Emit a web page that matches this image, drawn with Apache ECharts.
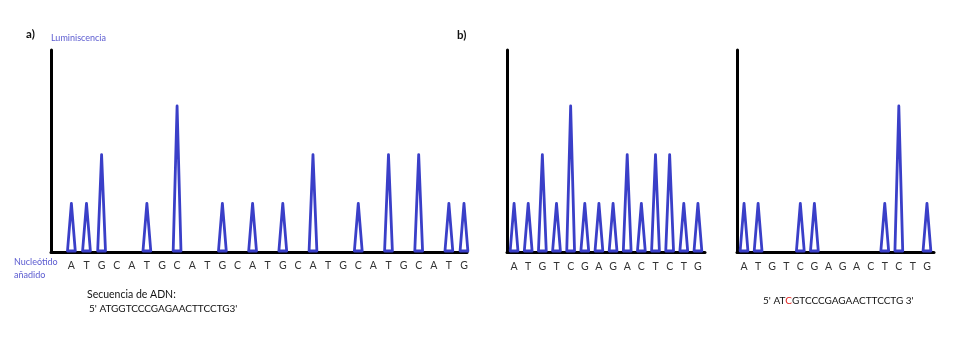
<!DOCTYPE html>
<html>
<head>
<meta charset="utf-8">
<script src="https://cdn.jsdelivr.net/npm/echarts@6/dist/echarts.min.js"></script>
<style>
  html, body { margin: 0; padding: 0; background: #fff; }
  #chart { width: 960px; height: 340px; }
</style>
</head>
<body>
<div id="chart"></div>
<script>
// Pyrogram a): nucleotide dispensation order and luminescence peak heights
const nucleotidesA = ['A','T','G','C','A','T','G','C','A','T','G','C','A','T','G','C','A','T','G','C','A','T','G','C','A','T','G'];
const signalA      = [ 1,  1,  2,  0,  0,  1,  0,  3,  0,  0,  1,  0,  1,  0,  1,  0,  2,  0,  0,  1,  0,  2,  0,  2,  0,  1,  1 ];

// Pyrograms b): same dispensation order, reference and mutated template
const nucleotidesB = ['A','T','G','T','C','G','A','G','A','C','T','C','T','G'];
const signalB1     = [ 1,  1,  2,  1,  3,  1,  1,  1,  2,  1,  2,  2,  1,  1 ];
const signalB2     = [ 1,  1,  0,  0,  1,  1,  0,  0,  0,  0,  1,  3,  0,  1 ];

const sequenceA = "5' ATGGTCCCGAGAACTTCCTG3'";
const mutantPre = "5' AT", mutantBase = 'C', mutantPost = "GTCCCGAGAACTTCCTG 3'";

const BLUE = '#3a3fc8';
const LABEL_BLUE = '#5b5bd0';
const FONT = 'Lato, "Noto Sans", sans-serif';
const HALF_W = 3.9;

function peakRenderer(letters) {
  return function (params, api) {
    const i = api.value(0), v = api.value(1);
    const base = api.coord([i, 0]);
    const top = api.coord([i, v]);
    const children = [];
    if (v > 0) {
      children.push({
        type: 'polygon',
        shape: { points: [[base[0] - HALF_W, base[1] - 1], [top[0], top[1]], [base[0] + HALF_W, base[1] - 1]] },
        style: { fill: '#ffffff', stroke: BLUE, lineWidth: 2.8, lineJoin: 'round' }
      });
    }
    if (letters) {
      children.push({
        type: 'text',
        style: {
          text: letters[params.dataIndex], x: base[0], y: base[1] + 14,
          align: 'center', verticalAlign: 'middle',
          font: '10.5px ' + FONT, fill: '#333'
        }
      });
    }
    return { type: 'group', children };
  };
}

const axisLine = { show: true, onZero: false, lineStyle: { color: '#000', width: 3 } };
const yAxisBase = {
  type: 'value', min: 0, max: 4.15,
  axisLine, axisTick: { show: false }, axisLabel: { show: false }, splitLine: { show: false }
};
const catAxis = (gi) => ({
  type: 'category', gridIndex: gi, data: nucleotidesB, boundaryGap: true,
  axisLine, axisTick: { show: false },
  axisLabel: { color: '#333', fontSize: 10.5, fontFamily: FONT, margin: 9, interval: 0 },
  splitLine: { show: false }
});

const chart = echarts.init(document.getElementById('chart'));
chart.setOption({
  backgroundColor: '#fff',
  animation: false,
  grid: [
    { left: 51,  top: 50, width: 416, height: 202 },
    { left: 507, top: 50, width: 198, height: 202 },
    { left: 737, top: 50, width: 197, height: 202 }
  ],
  xAxis: [
    {
      type: 'value', gridIndex: 0, min: -1.35, max: 26.2,
      axisLine, axisTick: { show: false }, axisLabel: { show: false }, splitLine: { show: false }
    },
    catAxis(1),
    catAxis(2)
  ],
  yAxis: [
    Object.assign({ gridIndex: 0 }, yAxisBase),
    Object.assign({ gridIndex: 1 }, yAxisBase),
    Object.assign({ gridIndex: 2 }, yAxisBase)
  ],
  series: [
    {
      type: 'custom', xAxisIndex: 0, yAxisIndex: 0, clip: false,
      renderItem: peakRenderer(nucleotidesA),
      data: signalA.map((v, i) => [i, v])
    },
    {
      type: 'custom', xAxisIndex: 1, yAxisIndex: 1, clip: false,
      renderItem: peakRenderer(null),
      data: signalB1.map((v, i) => [i, v])
    },
    {
      type: 'custom', xAxisIndex: 2, yAxisIndex: 2, clip: false,
      renderItem: peakRenderer(null),
      data: signalB2.map((v, i) => [i, v])
    }
  ],
  graphic: [
    { type: 'text', left: 26, top: 28, style: { text: 'a)', font: 'bold 11.5px ' + FONT, fill: '#111' } },
    { type: 'text', left: 457, top: 29, style: { text: 'b)', font: 'bold 11.5px ' + FONT, fill: '#111' } },
    { type: 'text', left: 51, top: 34, style: { text: 'Luminiscencia', font: '9px ' + FONT, fill: LABEL_BLUE } },
    { type: 'text', left: 14, top: 256, style: { text: 'Nucleótido\nañadido', font: '9px ' + FONT, fill: LABEL_BLUE, lineHeight: 13 } },
    { type: 'text', left: 87, top: 289, style: { text: 'Secuencia de ADN:', font: '10.5px ' + FONT, fill: '#111' } },
    { type: 'text', left: 89, top: 304, style: { text: sequenceA, font: '10px ' + FONT, fill: '#111' } },
    {
      type: 'text', left: 763, top: 296,
      style: {
        text: '{n|' + mutantPre + '}{r|' + mutantBase + '}{n|' + mutantPost + '}',
        rich: {
          n: { font: '10px ' + FONT, fill: '#111' },
          r: { font: '10px ' + FONT, fill: '#e0201c' }
        }
      }
    }
  ]
});
</script>
</body>
</html>
